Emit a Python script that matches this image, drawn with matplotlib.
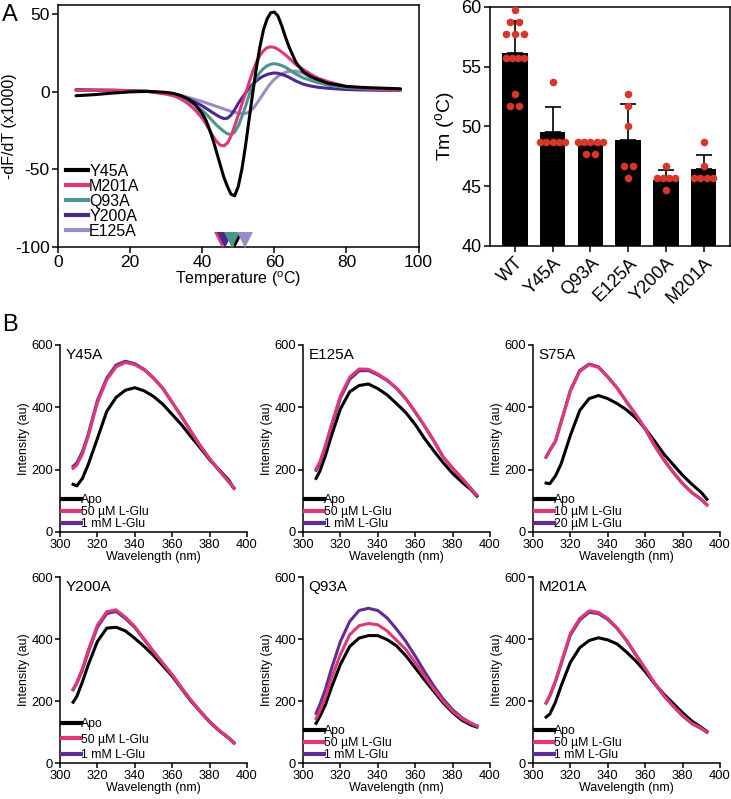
import numpy as np
import matplotlib
matplotlib.use('Agg')
import matplotlib.pyplot as plt
from matplotlib.lines import Line2D
from matplotlib.transforms import offset_copy

plt.rcParams['font.family'] = ['Liberation Sans', 'DejaVu Sans']
plt.rcParams['axes.unicode_minus'] = False
plt.rcParams['mathtext.default'] = 'regular'

# ---------------- panel A (left): -dF/dT curves
temp = [5, 10, 15, 20, 25, 30, 32, 34, 36, 38,
        40, 41, 42, 43, 44, 45, 46, 47, 48, 49, 50, 51, 52, 53, 54, 55, 56, 57, 58, 59,
        60, 61, 62, 63, 64, 66, 68, 70, 72, 75, 80, 85, 90, 95]
dsf_y45a = [-2.5, -1.8, -0.8, 0, 0.3, -0.3, -1, -2.3, -4.5, -8,
            -14, -18, -24, -31, -39, -47, -55, -61, -66, -67, -61, -50, -35, -18, -1,
            15, 29, 40, 47, 51, 51.5, 49, 43, 36, 29.5, 19, 13, 10, 8, 5.5, 3.5, 2.8, 2.4, 2]
dsf_m201a = [1, 1, 1, 0.8, 0.3, -1.5, -2.5, -4.5, -7.5, -11.5,
             -17, -20.5, -24.5, -28.5, -32, -34.3, -34.8, -33, -28.5, -22, -15, -8, -1, 6, 13,
             19, 23.5, 26.5, 28.5, 29, 28.7, 27.5, 25.8, 24, 22, 17.5, 14.5, 11.5, 9, 6.5, 3.5, 2.2, 1.6, 1.3]
dsf_q93a = [1, 1, 1, 0.8, 0.3, -1, -2, -3.5, -5.5, -8.5,
            -12, -14, -16.5, -19, -21.5, -23.5, -25.5, -27, -27.5, -26, -22, -16, -9.5, -2, 4,
            9, 12.5, 15, 16.8, 17.8, 18.2, 17.8, 17, 16, 14.5, 11.5, 9, 7.5, 6, 4.3, 2.7, 2, 1.5, 1.3]
dsf_y200a = [1.5, 1.2, 1, 0.8, 0.3, -0.8, -1.5, -2.8, -4.3, -6.5,
             -9, -10.5, -12, -13.5, -15, -16.3, -17.2, -17, -15, -11.5, -7.5, -4, -0.8, 2.3, 5,
             7, 8.8, 10.2, 11.2, 11.8, 12.2, 12, 11.3, 10.5, 9.5, 7, 5, 3.8, 3, 2.3, 1.5, 1.2, 1, 1]
dsf_e125a = [1, 1, 1, 0.8, 0.3, -1, -1.5, -2.3, -3.5, -4.8,
             -6.2, -7, -7.8, -8.6, -9.4, -10.2, -11, -11.8, -12.6, -13.2, -13.7, -14, -14, -13, -11,
             -8, -4.5, -1, 2.5, 5.5, 8, 10, 11.5, 12.5, 13.2, 13.5, 12, 9.5, 7.5, 5, 3, 2, 1.5, 1.3]
dsf_names = ['Y45A', 'M201A', 'Q93A', 'Y200A', 'E125A']
tm_marks = [49.0, 45.4, 48.2, 46.3, 52.0]

# ---------------- panel A (right): Tm bars
tm_groups = ['WT', 'Y45A', 'Q93A', 'E125A', 'Y200A', 'M201A']
tm_means = [56.1, 49.5, 48.4, 48.9, 45.5, 46.4]
tm_sd = [2.7, 2.1, 0.3, 3.0, 0.85, 1.2]
tm_wt = [59.7, 58.7, 58.7, 57.7, 57.7, 57.7, 55.7, 55.7, 55.7, 55.7, 52.7, 51.7, 51.7]
tm_y45a = [53.7, 48.7, 48.7, 48.7, 48.7, 48.7]
tm_q93a = [48.7, 48.7, 48.7, 48.7, 48.7, 47.7, 47.7]
tm_e125a = [52.7, 51.7, 50.0, 46.7, 46.7, 45.7]
tm_y200a = [46.7, 45.7, 45.7, 45.7, 45.7, 44.7]
tm_m201a = [48.7, 46.7, 45.7, 45.7, 45.7, 45.7]

# ---------------- panel B: emission spectra
wl = [307, 309, 312, 315, 320, 325, 330, 335, 340, 345, 350, 355, 360, 365, 370, 375, 380, 385, 390, 393]
y45a_apo = [153, 148, 172, 215, 300, 387, 432, 455, 463, 453, 435, 410, 377, 344, 306, 270, 232, 200, 168, 140]
y45a_lo = [204, 215, 250, 305, 415, 488, 530, 544, 537, 520, 493, 460, 415, 370, 322, 276, 235, 198, 163, 141]
y45a_hi = [211, 222, 258, 312, 422, 494, 536, 548, 540, 522, 495, 461, 416, 371, 323, 277, 235, 198, 163, 141]
e125a_apo = [172, 195, 245, 305, 395, 450, 470, 475, 460, 440, 412, 383, 345, 300, 260, 222, 188, 160, 135, 115]
e125a_lo = [203, 225, 278, 340, 437, 497, 523, 522, 507, 488, 462, 428, 385, 340, 292, 240, 205, 172, 138, 118]
e125a_hi = [198, 220, 272, 333, 430, 490, 517, 518, 504, 486, 461, 427, 385, 340, 292, 240, 205, 172, 138, 117]
s75a_apo = [157, 155, 180, 218, 310, 390, 428, 438, 428, 412, 392, 366, 332, 292, 250, 216, 182, 153, 127, 105]
s75a_lo = [240, 262, 290, 350, 452, 515, 537, 528, 497, 462, 418, 377, 332, 278, 232, 192, 156, 127, 105, 88]
s75a_hi = [240, 262, 292, 353, 455, 518, 539, 530, 498, 462, 418, 376, 330, 277, 231, 191, 155, 126, 104, 87]
y200a_apo = [196, 215, 262, 315, 392, 435, 438, 426, 402, 376, 347, 314, 280, 240, 200, 166, 133, 105, 82, 66]
y200a_lo = [238, 260, 305, 362, 445, 488, 494, 470, 440, 400, 360, 322, 285, 243, 203, 167, 134, 106, 82, 65]
y200a_hi = [236, 257, 300, 356, 438, 482, 489, 466, 437, 398, 359, 321, 284, 242, 202, 166, 133, 105, 81, 64]
q93a_apo = [128, 150, 188, 240, 318, 376, 403, 411, 411, 398, 378, 346, 307, 268, 231, 194, 163, 138, 122, 116]
q93a_lo = [143, 168, 212, 270, 350, 414, 443, 450, 446, 426, 396, 366, 324, 280, 238, 199, 167, 143, 127, 119]
q93a_hi = [160, 188, 238, 300, 392, 457, 492, 499, 492, 468, 432, 392, 345, 295, 248, 206, 172, 146, 128, 120]
m201a_apo = [148, 158, 196, 248, 325, 372, 395, 404, 397, 384, 358, 329, 295, 256, 222, 192, 162, 135, 115, 102]
m201a_lo = [194, 218, 265, 322, 418, 466, 491, 486, 466, 436, 396, 350, 305, 258, 218, 184, 153, 128, 112, 100]
m201a_hi = [193, 216, 262, 318, 413, 461, 486, 482, 463, 434, 395, 349, 304, 257, 217, 183, 152, 127, 111, 99]

PINK = '#de3879'
TEAL = '#4a968c'
DPURP = '#4b288c'
LPURP = '#9b8cc8'
BPURP = '#5f2d96'
RED = '#d7372a'

W, H = 731, 799
fig = plt.figure(figsize=(W / 100, H / 100), dpi=100)


def px_axes(x0, y0, x1, y1):
    return fig.add_axes([x0 / W, 1 - y1 / H, (x1 - x0) / W, (y1 - y0) / H])


# ---- A left
ax = px_axes(58, 5, 418.5, 247)
dsf_all = [dsf_y45a, dsf_m201a, dsf_q93a, dsf_y200a, dsf_e125a]
dsf_cols = ['black', PINK, TEAL, DPURP, LPURP]
for vals, c in list(zip(dsf_all, dsf_cols))[::-1]:
    ax.plot(temp, vals, color=c, lw=2.2, solid_capstyle='round')
tr = offset_copy(ax.transData, fig=fig, x=0, y=5.3, units='points')
for i in [0, 1, 3, 2, 4]:
    ax.plot(tm_marks[i], -100, 'v', color=dsf_cols[i], ms=11, mew=0,
            transform=tr, clip_on=False, zorder=5)
ax.set_xlim(0, 100)
ax.set_ylim(-100, 56)
ax.set_xticks([0, 20, 40, 60, 80, 100])
ax.set_yticks([-100, -50, 0, 50])
ax.tick_params(direction='out', length=4, width=1.1, labelsize=12.5, pad=2)
for s in ax.spines.values():
    s.set_linewidth(1.1)
ax.set_xlabel('Temperature ($^{o}$C)', fontsize=11.5, labelpad=-1)
ax.set_ylabel('-dF/dT (x1000)', fontsize=11.5)
ax.yaxis.set_label_coords(-0.114, 0.5)
hd = [Line2D([], [], color=c, lw=3) for c in dsf_cols]
ax.legend(hd, dsf_names, loc='lower left', frameon=False, fontsize=11.5,
          handlelength=1.35, handletextpad=0.1, labelspacing=0.0,
          borderpad=0, borderaxespad=0.5)

# ---- A right
ax2 = px_axes(490, 6.7, 730, 246)
xpos = np.arange(len(tm_groups))
ax2.bar(xpos, [m - 40 for m in tm_means], bottom=40, width=0.68, color='black', zorder=1)
ax2.errorbar(xpos, tm_means, yerr=[np.zeros(len(tm_sd)), tm_sd], fmt='none',
             ecolor='black', elinewidth=1.2, capsize=6, capthick=1.2, zorder=2)
reps = [tm_wt, tm_y45a, tm_q93a, tm_e125a, tm_y200a, tm_m201a]
for i, r in enumerate(reps):
    r = np.array(r)
    for v in np.unique(r):
        n = int(np.sum(r == v))
        step = 0.24 if n <= 3 else 0.165
        offs = (np.arange(n) - (n - 1) / 2) * step
        ax2.scatter(i + offs, [v] * n, s=30, color=RED, lw=0, zorder=3, clip_on=False)
ax2.set_xlim(-0.66, 5.7)
ax2.set_ylim(40, 60)
ax2.set_yticks([40, 45, 50, 55, 60])
ax2.set_xticks(xpos)
ax2.set_xticklabels(tm_groups, rotation=45, ha='right', rotation_mode='anchor')
ax2.tick_params(direction='out', length=4, width=1.1, labelsize=13, pad=2)
for s in ax2.spines.values():
    s.set_linewidth(1.1)
ax2.set_ylabel('Tm ($^{o}$C)', fontsize=14, labelpad=3)

# ---- B
panels = [
    ('Y45A', y45a_apo, y45a_lo, y45a_hi, '50 µM L-Glu', '1 mM L-Glu'),
    ('E125A', e125a_apo, e125a_lo, e125a_hi, '50 µM L-Glu', '1 mM L-Glu'),
    ('S75A', s75a_apo, s75a_lo, s75a_hi, '10 µM L-Glu', '20 µM L-Glu'),
    ('Y200A', y200a_apo, y200a_lo, y200a_hi, '50 µM L-Glu', '1 mM L-Glu'),
    ('Q93A', q93a_apo, q93a_lo, q93a_hi, '50 µM L-Glu', '1 mM L-Glu'),
    ('M201A', m201a_apo, m201a_lo, m201a_hi, '50 µM L-Glu', '1 mM L-Glu'),
]
col_x = [60, 303, 533]
row_y = [(345, 532), (577, 763)]
leg_gap = [0.0, 0.0, 0.0, 0.3, 0.0, 0.0]
for k, (name, apo, lo, hi, lab_lo, lab_hi) in enumerate(panels):
    x0 = col_x[k % 3]
    y0, y1 = row_y[k // 3]
    axb = px_axes(x0, y0, x0 + 187, y1)
    axb.plot(wl, apo, color='black', lw=2.2)
    axb.plot(wl, hi, color=BPURP, lw=2.2)
    axb.plot(wl, lo, color=PINK, lw=2.2)
    axb.set_xlim(300, 400)
    axb.set_ylim(0, 600)
    axb.set_xticks([300, 320, 340, 360, 380, 400])
    axb.set_yticks([0, 200, 400, 600])
    axb.spines['top'].set_visible(False)
    axb.spines['right'].set_visible(False)
    for s in ['left', 'bottom']:
        axb.spines[s].set_linewidth(1.1)
    axb.tick_params(direction='out', length=3.5, width=1.1, labelsize=9.3, pad=1.5)
    axb.set_xlabel('Wavelength (nm)', fontsize=9, labelpad=0)
    axb.set_ylabel('Intensity (au)', fontsize=9, labelpad=1)
    axb.text(0.03, 0.985, name, transform=axb.transAxes, fontsize=11, va='top', ha='left')
    hb = [Line2D([], [], color=c, lw=3) for c in ['black', PINK, BPURP]]
    axb.legend(hb, ['Apo', lab_lo, lab_hi], loc='lower left', frameon=False, fontsize=8.8,
               handlelength=1.55, handletextpad=0.05, labelspacing=leg_gap[k],
               borderpad=0, borderaxespad=0.15)

fig.text(0.003, 0.995, 'A', fontsize=17, va='top', ha='left')
fig.text(0.003, 0.607, 'B', fontsize=17, va='top', ha='left')

fig.savefig('out.png', dpi=100)
